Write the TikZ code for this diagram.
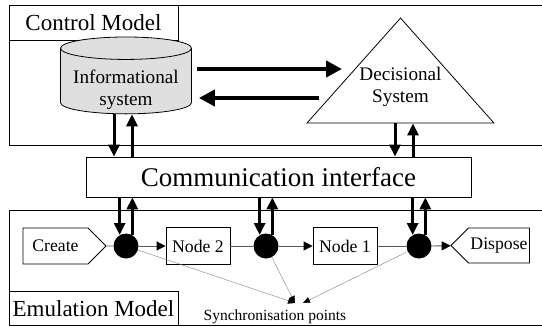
\documentclass[tikz,border=0pt]{standalone}
\usepackage{fontspec}
\setmainfont{Liberation Serif}
\newfontfamily\timesfont{Liberation Serif}
\usetikzlibrary{arrows.meta, calc, shapes.geometric, shapes.symbols}

\tikzset{
  modelbox/.style={draw, line width=0.8pt, minimum width=169pt, minimum height=35pt, inner sep=0pt, font=\timesfont\fontsize{23}{26}\selectfont},
  flowbox/.style={draw, line width=0.8pt, minimum height=37pt, inner sep=2pt, font=\timesfont\fontsize{17.7}{20}\selectfont},
  syslabel/.style={align=center, font=\timesfont\fontsize{19.2}{22}\selectfont},
  syncdot/.style={circle, fill, minimum size=25pt, inner sep=0pt},
  bigarrow/.style={line width=4.5pt, -{Triangle[length=16pt,width=16pt]}},
  linkarrow/.style={line width=3pt, -{Triangle[length=12pt,width=11pt]}},
  flow/.style={draw=black!65, line width=0.8pt},
  flowarrow/.style={flow, -{Triangle[length=9pt,width=9pt,color=black]}},
  syncarrow/.style={draw=black!50, line width=0.4pt, -{Triangle[length=7pt,width=6pt,color=black]}},
}

\begin{document}
\begin{tikzpicture}[x=1pt, y=-1pt]
\useasboundingbox (0,0) rectangle (542,327);

% control model
\draw[line width=0.8pt] (542,5) -- (9,5) -- (9,145) -- (542,145);
\node[modelbox] (ctrl) at (93.5,22.5) {Control Model};
\node[cylinder, shape border rotate=90, draw, fill=gray!25, line width=0.8pt, minimum width=131pt, minimum height=74pt, aspect=0.2, syslabel] (info) at (126,83) {\phantom{Informational}\\\phantom{system}};
\node[syslabel] (infotext) at (126,90) {Informational\\system};
\node[isosceles triangle, isosceles triangle stretches, shape border rotate=90, draw, line width=0.8pt, minimum width=187pt, minimum height=105pt, inner sep=0pt, anchor=apex] (tri) at (400.5,17) {};
\node[syslabel] (dec) at (400.5,87) {Decisional\\System};

\draw[bigarrow] ($(info.east)+(5,-14)$) -- ($(info.east -| tri.apex)+(-58.5,-14)$);
\draw[bigarrow] ($(info.east -| tri.apex)+(-81.5,15)$) -- ($(info.east)+(7,15)$);

% interface
\node[draw, line width=0.8pt, minimum width=385pt, minimum height=40pt, font=\timesfont\fontsize{27}{30}\selectfont] (comm) at (278.5,177) {Communication interface};

\draw[linkarrow] ($(info.south)+(-12,0)$) -- ($(info.south |- comm.north)+(-12,0)$);
\draw[linkarrow] ($(info.south |- comm.north)+(6,0)$) -- ($(info.south)+(6,0)$);
\draw[linkarrow] ($(tri.south)+(-5.5,0)$) -- ($(tri.south |- comm.north)+(-5.5,0)$);
\draw[linkarrow] ($(tri.south |- comm.north)+(12.5,0)$) -- ($(tri.south)+(12.5,0)$);

% emulation model
\draw[line width=0.8pt] (542,210) -- (9,210) -- (9,325.5) -- (542,325.5);
\node[modelbox, minimum height=34pt] (emul) at (93.5,308.5) {Emulation Model};

\node[signal, signal to=east, flowbox, minimum width=83pt, minimum height=36pt] (create) at (55.5,246) {Create};
\node[syncdot] (c1) at (126,246) {};
\node[flowbox, minimum width=64pt] (node2) at (198,246) {Node 2};
\node[syncdot] (c2) at (266,246) {};
\node[flowbox, minimum width=64pt] (node1) at (345,246) {Node 1};
\node[syncdot] (c3) at (419,246) {};
\node[signal, signal to=west, flowbox, minimum width=72pt, minimum height=35pt] (dispose) at (499,245.5) {Dispose};

\draw[flow] (create) -- (c1);
\draw[flowarrow] (c1) -- (node2);
\draw[flow] (node2) -- (c2);
\draw[flowarrow] (c2) -- (node1);
\draw[flow] (node1) -- (c3);
\draw[flowarrow] (c3) -- (dispose);

\draw[linkarrow] (c1.120 |- comm.south) -- (c1.120);
\draw[linkarrow] (c1.60) -- (c1.60 |- comm.south);
\draw[linkarrow] (c2.120 |- comm.south) -- (c2.120);
\draw[linkarrow] (c2.60) -- (c2.60 |- comm.south);
\draw[linkarrow] (c3.120 |- comm.south) -- (c3.120);
\draw[linkarrow] (c3.60) -- (c3.60 |- comm.south);

% synchronisation
\node[font=\timesfont\fontsize{15.5}{18}\selectfont] (sync) at (275,317) {Synchronisation points};
\coordinate (syncL) at (295,303);
\coordinate (syncR) at (303,303);
\draw[syncarrow] (c1) -- (syncL);
\draw[syncarrow] (c2) -- (syncL);
\draw[syncarrow] (c3) -- (syncR);
\end{tikzpicture}
\end{document}
